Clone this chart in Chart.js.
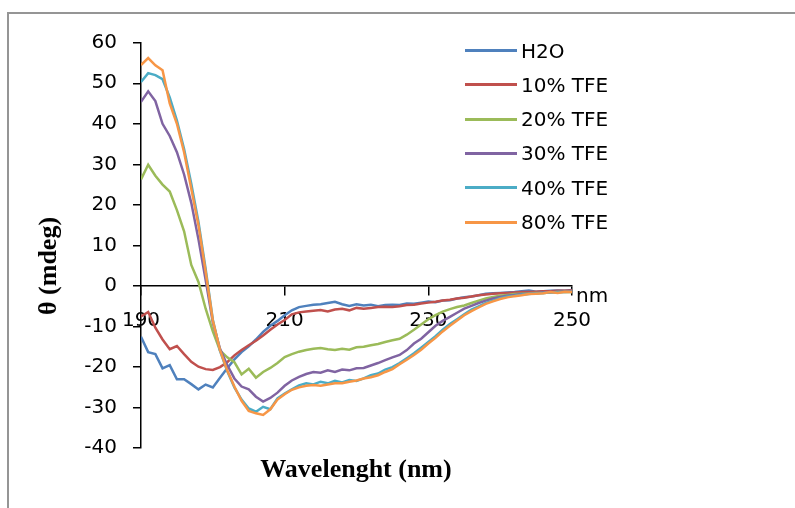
<!DOCTYPE html>
<html>
<head>
<meta charset="utf-8">
<title>CD spectra in TFE</title>
<script src="https://cdn.jsdelivr.net/npm/chart.js@4.4.1/dist/chart.umd.min.js"></script>
<style>
  html, body { margin: 0; padding: 0; background: #fff; overflow: hidden; }
  #wrap { position: relative; width: 795px; height: 508px; overflow: hidden; }
  #frame { position: absolute; left: 7px; top: 12px; width: 900px; height: 700px; border: 2px solid #959595; }
  #chart { position: absolute; left: 0; top: 0; }
  .axis-title { position: absolute; font-family: "Liberation Serif", "Times New Roman", serif; font-weight: bold;
    font-size: 26px; line-height: 26px; white-space: nowrap; color: #000; }
  #ytitle { left: 48px; top: 266px; transform: translate(-50%, -50%) rotate(-90deg); }
  #xtitle { left: 356px; top: 456px; transform: translateX(-50%); }
  #unit { position: absolute; left: 576px; top: 285px; font-family: "DejaVu Sans", sans-serif; font-size: 20px; line-height: 20px; color: #000; }
  #legend { position: absolute; left: 465px; top: 33.5px; font-family: "DejaVu Sans", sans-serif; font-size: 20px; color: #000; }
  #legend .row { display: flex; align-items: center; height: 34.3px; line-height: 34.3px; white-space: nowrap; }
  #legend .swatch { display: inline-block; width: 52px; height: 3px; margin-right: 4px; }
</style>
</head>
<body>
<div id="wrap">
  <div id="frame"></div>
  <canvas id="chart" width="795" height="508"></canvas>
  <div id="ytitle" class="axis-title">θ (mdeg)</div>
  <div id="xtitle" class="axis-title">Wavelenght (nm)</div>
  <div id="unit">nm</div>
  <div id="legend"></div>
</div>
<script>
// wavelength (nm), one reading per nm
const wavelengths = [
  190, 191, 192, 193, 194, 195, 196, 197, 198, 199,
  200, 201, 202, 203, 204, 205, 206, 207, 208, 209,
  210, 211, 212, 213, 214, 215, 216, 217, 218, 219,
  220, 221, 222, 223, 224, 225, 226, 227, 228, 229,
  230, 231, 232, 233, 234, 235, 236, 237, 238, 239,
  240, 241, 242, 243, 244, 245, 246, 247, 248, 249,
  250
];

const seriesNames = ["H2O", "10% TFE", "20% TFE", "30% TFE", "40% TFE", "80% TFE"];
const seriesColors = ["#4F81BD", "#C0504D", "#9BBB59", "#8064A2", "#4BACC6", "#F79646"];

// ellipticity, mdeg
const h2o = [
  -12.5, -16.3, -16.8, -20.3, -19.5, -23.0, -23.0, -24.2, -25.5, -24.3,
  -25.0, -22.6, -20.3, -18.1, -16.3, -14.9, -13.2, -11.3, -9.8, -8.6,
  -7.2, -6.0, -5.2, -4.9, -4.6, -4.5, -4.2, -3.9, -4.5, -4.9,
  -4.5, -4.8, -4.6, -5.0, -4.7, -4.6, -4.7, -4.3, -4.4, -4.1,
  -3.8, -4.0, -3.6, -3.5, -3.1, -2.8, -2.6, -2.3, -1.9, -1.8,
  -1.7, -1.6, -1.5, -1.3, -1.1, -1.4, -1.3, -1.2, -1.1, -1.2,
  -1.0
];
const tfe10 = [
  -7.5, -6.4, -10.3, -13.2, -15.6, -14.8, -16.8, -18.7, -19.9, -20.5,
  -20.7, -20.0, -18.8, -17.1, -15.8, -14.6, -13.5, -12.2, -10.8, -9.5,
  -8.4, -7.0, -6.5, -6.3, -6.1, -5.9, -6.3, -5.8, -5.6, -6.0,
  -5.4, -5.6, -5.4, -5.2, -5.1, -5.2, -5.0, -4.7, -4.6, -4.3,
  -4.1, -3.9, -3.6, -3.4, -3.1, -2.9, -2.6, -2.3, -2.1, -1.9,
  -1.8, -1.7, -1.6, -1.5, -1.5, -1.4, -1.3, -1.3, -1.2, -1.2,
  -1.1
];
const tfe20 = [
  26.3, 29.9, 27.2, 25.0, 23.3, 18.7, 13.5, 5.2, 1.0, -5.6,
  -11.2, -15.9, -17.6, -18.8, -21.8, -20.4, -22.6, -21.2, -20.2, -19.0,
  -17.5, -16.8, -16.2, -15.8, -15.5, -15.3, -15.6, -15.8, -15.5, -15.7,
  -15.1, -15.0, -14.6, -14.3, -13.8, -13.4, -13.0, -12.0, -10.8, -9.5,
  -8.2, -7.2, -6.3, -5.7, -5.2, -4.8, -4.2, -3.6, -3.1, -2.7,
  -2.4, -2.2, -2.0, -1.9, -1.8, -1.7, -1.7, -1.6, -1.5, -1.5,
  -1.5
];
const tfe30 = [
  45.4, 48.0, 45.6, 40.0, 37.0, 33.0, 27.5, 20.5, 11.5, 1.5,
  -9.0, -15.5, -19.5, -22.8, -24.8, -25.5, -27.3, -28.5, -27.6, -26.3,
  -24.6, -23.3, -22.4, -21.7, -21.2, -21.4, -20.8, -21.2, -20.6, -20.8,
  -20.3, -20.2, -19.6, -19.0, -18.3, -17.6, -17.0, -15.8, -14.2, -13.0,
  -11.4, -9.8, -8.6, -7.6, -6.6, -5.6, -4.9, -4.2, -3.6, -3.1,
  -2.7, -2.4, -2.2, -2.0, -1.9, -1.8, -1.6, -1.5, -1.5, -1.4,
  -1.4
];
const tfe40 = [
  50.3, 52.5, 52.0, 51.0, 46.5, 40.8, 33.8, 25.2, 15.8, 4.2,
  -8.3, -16.0, -21.0, -25.0, -28.0, -30.2, -31.0, -29.8, -30.4, -27.7,
  -26.5, -25.5, -24.5, -24.0, -24.3, -23.6, -24.0, -23.4, -23.8, -23.2,
  -23.4, -22.8, -22.0, -21.6, -20.6, -20.0, -19.0, -17.8, -16.6, -15.2,
  -13.8, -12.4, -10.8, -9.4, -8.2, -7.0, -5.8, -5.0, -4.2, -3.6,
  -3.0, -2.6, -2.4, -2.1, -2.0, -1.8, -1.7, -1.6, -1.5, -1.5,
  -1.4
];
const tfe80 = [
  54.5, 56.2, 54.4, 53.2, 45.0, 40.0, 33.0, 24.0, 15.0, 3.5,
  -8.5, -15.8, -20.8, -24.8, -28.3, -30.8, -31.4, -31.8, -30.4, -28.0,
  -26.7, -25.6, -25.0, -24.6, -24.4, -24.6, -24.3, -24.0, -24.0, -23.6,
  -23.3, -22.8, -22.5, -22.0, -21.2, -20.5, -19.3, -18.2, -17.0, -15.7,
  -14.2, -12.8, -11.2, -9.8, -8.5, -7.2, -6.2, -5.3, -4.4, -3.8,
  -3.2, -2.8, -2.5, -2.3, -2.0, -1.9, -1.8, -1.5, -1.7, -1.4,
  -1.5
];

const allSeries = [h2o, tfe10, tfe20, tfe30, tfe40, tfe80];

// x axis ticks every 20 nm, y axis every 10 mdeg
const xMin = 190, xMax = 250, xStep = 20;
const yMin = -40, yMax = 60, yStep = 10;

const tickFont = { family: "'DejaVu Sans', sans-serif", size: 20 };

const datasets = allSeries.map((values, i) => ({
  label: seriesNames[i],
  data: values.map((v, j) => ({ x: wavelengths[j], y: v })),
  borderColor: seriesColors[i],
  backgroundColor: seriesColors[i],
  // later series on top, like the spreadsheet
  order: allSeries.length - i
}));

const chart = new Chart(document.getElementById("chart"), {
  type: "line",
  data: { datasets: datasets },
  options: {
    responsive: false,
    animation: false,
    devicePixelRatio: 1,
    layout: { padding: { left: 0, top: 42.7, right: 223, bottom: 59.8 } },
    elements: {
      point: { radius: 0 },
      line: { borderWidth: 2.5, tension: 0 }
    },
    plugins: {
      legend: { display: false },
      tooltip: { enabled: false }
    },
    scales: {
      x: {
        type: "linear",
        min: xMin,
        max: xMax,
        position: { y: 0 },
        ticks: { stepSize: xStep, padding: 14, maxRotation: 0, font: tickFont, color: "#000" },
        grid: { drawOnChartArea: false, drawTicks: true, tickLength: 9, color: "#000", lineWidth: 1.5 },
        border: { color: "#000", width: 1.5 }
      },
      y: {
        type: "linear",
        min: yMin,
        max: yMax,
        ticks: { stepSize: yStep, padding: 16, font: tickFont, color: "#000" },
        grid: { drawOnChartArea: false, drawTicks: true, tickLength: 8, color: "#000", lineWidth: 1.5 },
        border: { color: "#000", width: 1.5 },
        afterFit: (scale) => { scale.width = 141; }
      }
    }
  }
});

// legend as plain html next to the curves
const legendBox = document.getElementById("legend");
chart.data.datasets.forEach((ds) => {
  const row = document.createElement("div");
  row.className = "row";
  const swatch = document.createElement("span");
  swatch.className = "swatch";
  swatch.style.background = ds.borderColor;
  row.appendChild(swatch);
  row.appendChild(document.createTextNode(ds.label));
  legendBox.appendChild(row);
});
</script>
</body>
</html>
